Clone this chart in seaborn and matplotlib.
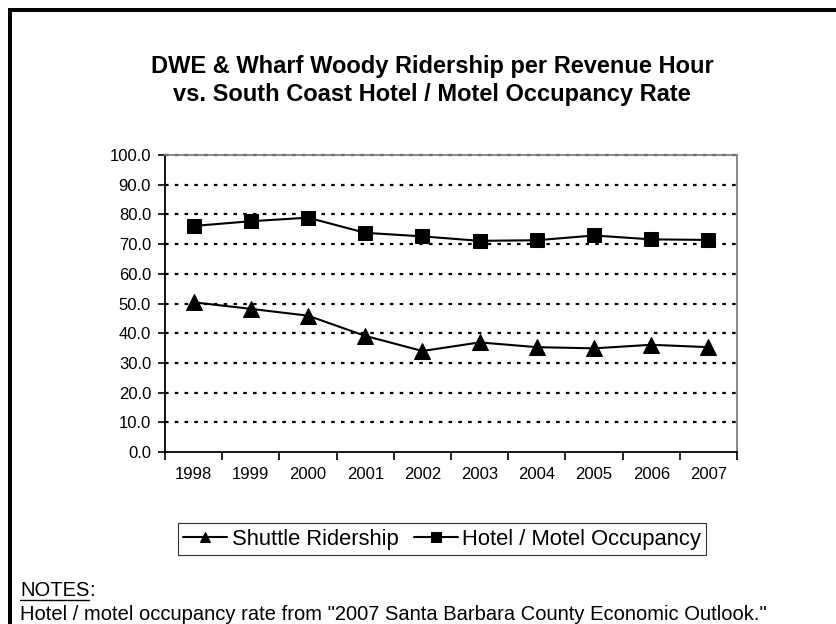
import numpy as np
import pandas as pd
import matplotlib
matplotlib.use("Agg")
import matplotlib.pyplot as plt
from matplotlib.lines import Line2D
import seaborn as sns

years = ["1998", "1999", "2000", "2001", "2002", "2003", "2004", "2005", "2006", "2007"]
shuttle = [50.4, 48.2, 45.9, 39.1, 34.0, 36.9, 35.3, 34.9, 36.1, 35.3]
hotel = [76.1, 77.7, 78.9, 73.8, 72.6, 71.1, 71.3, 72.9, 71.6, 71.4]
series_names = ["Shuttle Ridership", "Hotel / Motel Occupancy"]
yticks = [0, 10, 20, 30, 40, 50, 60, 70, 80, 90, 100]
title_lines = ["DWE & Wharf Woody Ridership per Revenue Hour",
               "vs. South Coast Hotel / Motel Occupancy Rate"]
notes_head = "NOTES"
notes_text = 'Hotel / motel occupancy rate from "2007 Santa Barbara County Economic Outlook."'

sns.set_theme(style="white")
plt.rcParams["font.family"] = ["Liberation Sans", "DejaVu Sans"]

W, H = 836, 624
fig = plt.figure(figsize=(W / 100, H / 100), dpi=100)
fig.patch.set_facecolor("white")

def fx(px):
    return px / W

def fy(py):
    return 1 - py / H

ax = fig.add_axes([fx(165), fy(452), fx(737) - fx(165), fy(155) - fy(452)])
ax.set_facecolor("white")

df = pd.DataFrame({"year": years * 2,
                   "value": shuttle + hotel,
                   "series": [series_names[0]] * len(years) + [series_names[1]] * len(years)})

sns.lineplot(data=df[df.series == series_names[0]], x="year", y="value", ax=ax,
             color="black", lw=1.5, marker="^", markersize=11, markeredgecolor="black",
             label=series_names[0], sort=False, zorder=3)
sns.lineplot(data=df[df.series == series_names[1]], x="year", y="value", ax=ax,
             color="black", lw=1.5, marker="s", markersize=10.5, markeredgecolor="black",
             label=series_names[1], sort=False, zorder=3)

ax.set_xlim(-0.5, len(years) - 0.5)
ax.set_ylim(0, 100)
ax.set_yticks(yticks)
ax.set_yticklabels([f"{v:.1f}" for v in yticks])
ax.set_xticks(range(len(years)))
ax.set_xticklabels(years)
ax.set_xticks(np.arange(-0.5, len(years), 1), minor=True)
ax.set_xlabel("")
ax.set_ylabel("")

ax.tick_params(axis="y", which="major", direction="out", length=5, width=1.2,
               color="black", labelsize=12, labelcolor="black", pad=5, left=True)
ax.tick_params(axis="x", which="major", length=0, labelsize=12, labelcolor="black", pad=11)
ax.tick_params(axis="x", which="minor", direction="out", length=6, width=1.2,
               color="black", bottom=True)

for yv in yticks[1:]:
    ax.axhline(yv, color="black", lw=1.6, linestyle=(0, (1.6, 2.8)),
               dash_capstyle="butt", zorder=2, clip_on=False)

for s in ["left", "bottom"]:
    ax.spines[s].set_color("black")
    ax.spines[s].set_linewidth(1.3)
for s in ["top", "right"]:
    ax.spines[s].set_color("#808080")
    ax.spines[s].set_linewidth(1.3)
    ax.spines[s].set_visible(True)

leg = ax.legend(loc="center", bbox_to_anchor=(fx(442), fy(539)),
                bbox_transform=fig.transFigure, ncol=2, frameon=True,
                fontsize=15.8, handlelength=2.0, handletextpad=0.2,
                columnspacing=0.7, borderpad=0.25, markerscale=0.7,
                fancybox=False, borderaxespad=0)
leg.get_frame().set_edgecolor("black")
leg.get_frame().set_linewidth(0.8)
for t in leg.get_texts():
    t.set_color("black")

fig.text(fx(432), fy(67), title_lines[0], ha="center", va="center",
         fontsize=17, fontweight="bold", color="black")
fig.text(fx(432), fy(95), title_lines[1], ha="center", va="center",
         fontsize=17, fontweight="bold", color="black")

nh = fig.text(fx(20), fy(591), notes_head, ha="left", va="center", fontsize=14.5, color="black")
fig.canvas.draw()
bb = nh.get_window_extent()
fig.text(bb.x1 / W, fy(591), ":", ha="left", va="center", fontsize=14.5, color="black")
fig.add_artist(Line2D([bb.x0 / W, bb.x1 / W], [(bb.y0 + 1) / H, (bb.y0 + 1) / H],
                      transform=fig.transFigure, color="black", lw=1.0))
fig.text(fx(20), fy(614), notes_text, ha="left", va="center", fontsize=14.5, color="black")

# outer frame (left and top)
fig.add_artist(Line2D([fx(10), fx(10)], [fy(8), 0], transform=fig.transFigure,
                      color="black", lw=2.9, solid_capstyle="butt"))
fig.add_artist(Line2D([fx(8), 1], [fy(10), fy(10)], transform=fig.transFigure,
                      color="black", lw=2.9, solid_capstyle="butt"))

fig.savefig("out.png", dpi=100, facecolor="white")
